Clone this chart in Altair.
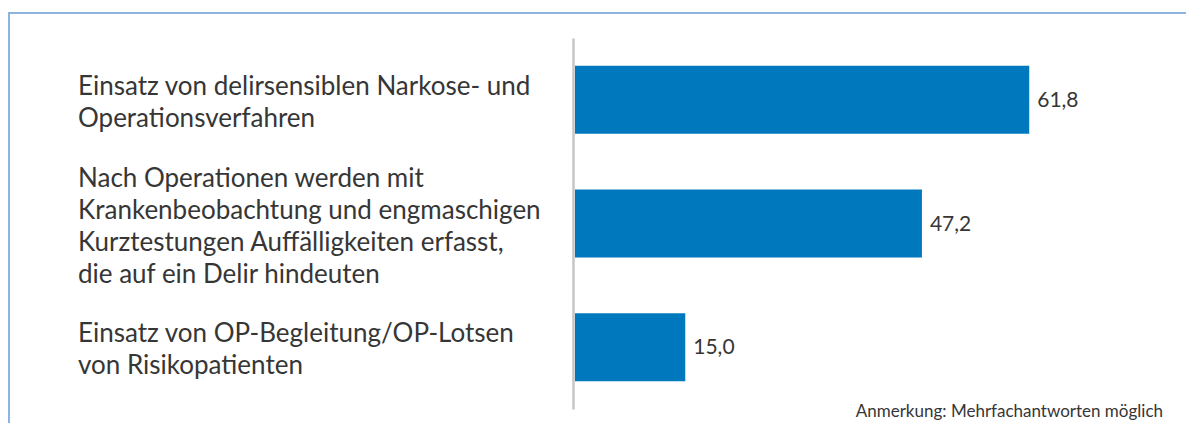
import altair as alt
import pandas as pd

categories = [
    "Einsatz von delirsensiblen Narkose- und\nOperationsverfahren",
    "Nach Operationen werden mit\nKrankenbeobachtung und engmaschigen\nKurztestungen Auffälligkeiten erfasst,\ndie auf ein Delir hindeuten",
    "Einsatz von OP-Begleitung/OP-Lotsen\nvon Risikopatienten",
]
values = [61.8, 47.2, 15.0]
note = "Anmerkung: Mehrfachantworten möglich"

df = pd.DataFrame({"cat": categories, "val": values})

W, H = 588, 371
FONT = "Lato"
TXT = "#363636"
LH = 32

y_scale = alt.Scale(domain=categories, paddingInner=0.45, paddingOuter=0.225)
y_enc = alt.Y("cat:N", sort=categories, scale=y_scale,
              axis=alt.Axis(title=None, labels=False, ticks=False, offset=2,
                            domainColor="#c6c6c6", domainWidth=2.5, grid=False))
x_scale = alt.Scale(domain=[0, 80], zero=True)

base = alt.Chart(df)

bars = base.mark_bar(color="#0078bd").encode(
    x=alt.X("val:Q", scale=x_scale, axis=None),
    y=y_enc,
)

vals = base.transform_calculate(
    lab="replace(format(datum.val, '.1f'), '.', ',')"
).mark_text(align="left", baseline="middle", dx=8, dy=1, font=FONT, fontSize=21, color=TXT).encode(
    x=alt.X("val:Q", scale=x_scale),
    y=alt.Y("cat:N", sort=categories, scale=y_scale),
    text="lab:N",
)

cat_layers = []
for c in categories:
    n = c.count("\n") + 1
    cat_layers.append(
        base.transform_filter(alt.datum.cat == c).mark_text(
            align="left", baseline="middle", dy=3 - (n - 1) * LH / 2, font=FONT, fontSize=26,
            lineHeight=LH, lineBreak="\n", color=TXT
        ).encode(
            x=alt.value(-497),
            y=alt.Y("cat:N", sort=categories, scale=y_scale),
            text="cat:N",
        )
    )

one = alt.Data(values=[{"t": note}])

frame = alt.Chart(one).mark_rect(fill="white", fillOpacity=0, stroke="#8db3df", strokeWidth=2).encode(
    x=alt.value(-566), x2=alt.value(700), y=alt.value(-25), y2=alt.value(460),
)

annot = alt.Chart(one).mark_text(align="right", baseline="middle", font=FONT, fontSize=17, color=TXT).encode(
    x=alt.value(588), y=alt.value(374), text="t:N",
)

chart = alt.layer(frame, bars, vals, *cat_layers, annot).properties(
    width=W, height=H,
    background="white",
    autosize=alt.AutoSizeParams(type="none"),
    padding={"left": 567, "top": 30, "right": 23, "bottom": 14},
).configure_view(stroke="transparent")

chart.save("out.html", embed_options={"renderer": "svg", "actions": False})
